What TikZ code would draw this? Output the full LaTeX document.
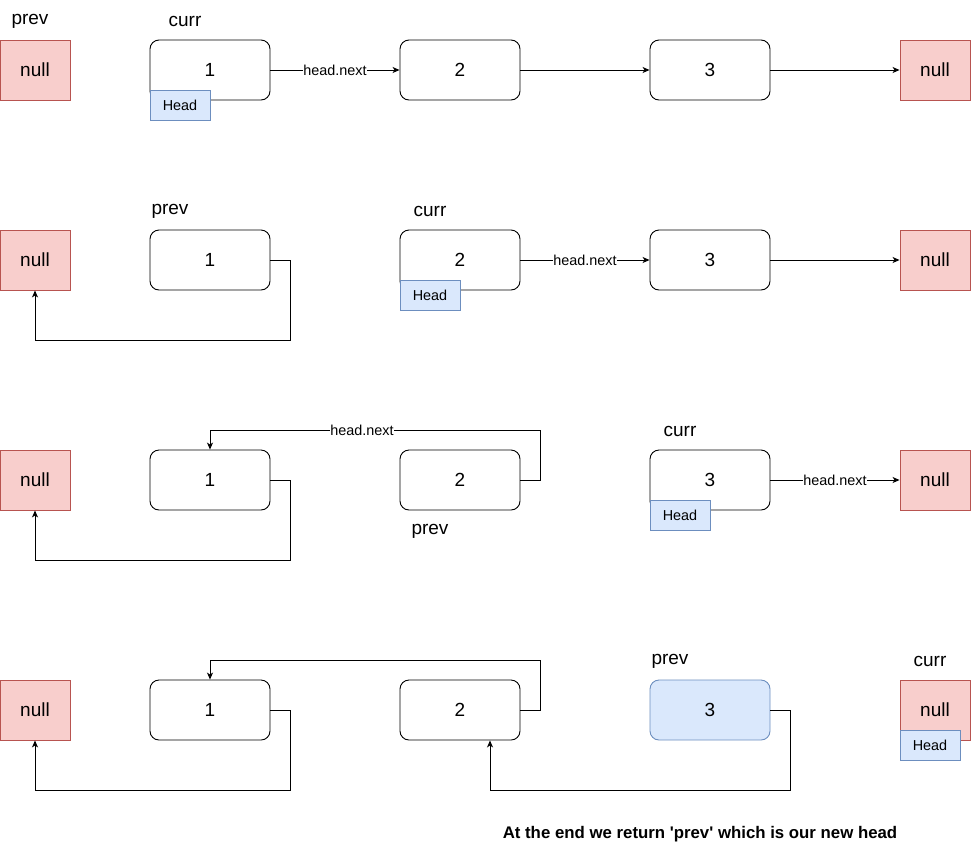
\documentclass[tikz,border=0pt]{standalone}
\usepackage{fontspec}
\setmainfont{Liberation Sans}
\usetikzlibrary{arrows.meta,calc}
\definecolor{redfill}{HTML}{F8CECC}
\definecolor{redline}{HTML}{B85450}
\definecolor{bluefill}{HTML}{DAE8FC}
\definecolor{blueline}{HTML}{6C8EBF}
\tikzset{
  nullbox/.style={draw=redline,fill=redfill,line width=0.9pt,minimum width=70pt,minimum height=60pt,inner sep=0pt,font=\fontsize{19}{22}\selectfont},
  listnode/.style={draw=black,fill=white,rounded corners=9pt,line width=0.9pt,minimum width=120pt,minimum height=60pt,inner sep=0pt,font=\fontsize{19}{22}\selectfont},
  newhead/.style={listnode,draw=blueline,fill=bluefill},
  headbox/.style={draw=blueline,fill=bluefill,line width=0.9pt,minimum width=60pt,minimum height=30pt,inner sep=0pt,font=\fontsize{14.4}{17}\selectfont},
  ptr/.style={font=\fontsize{19}{22}\selectfont,inner sep=0pt},
  arr/.style={draw=black,line width=0.9pt,-{Stealth[length=7pt,width=6pt,inset=2pt]}},
  lbl/.style={fill=white,inner sep=0.5pt,font=\fontsize{14.4}{17}\selectfont},
}
\begin{document}
\begin{tikzpicture}[x=1pt,y=-1pt]
\useasboundingbox (0,0) rectangle (972,852);
% ---------- Row 1 ----------
\node[nullbox] (n1) at (35,70) {null};
\node[listnode] (a1) at (210,70) {1};
\node[listnode] (b1) at (460,70) {2};
\node[listnode] (c1) at (710,70) {3};
\node[nullbox] (m1) at (935,70) {null};
\node[headbox] (h1) at (180,105) {Head};
\node[ptr] (p1) at (30,21) {prev};
\node[ptr] (q1) at (185,21) {curr};
\draw[arr] (a1) -- node[lbl] {head.next} (b1);
\draw[arr] (b1) -- (c1);
\draw[arr] (c1) -- (m1);
% ---------- Row 2 ----------
\node[nullbox] (n2) at (35,260) {null};
\node[listnode] (a2) at (210,260) {1};
\node[listnode] (b2) at (460,260) {2};
\node[listnode] (c2) at (710,260) {3};
\node[nullbox] (m2) at (935,260) {null};
\node[headbox] (h2) at (430,295) {Head};
\node[ptr] (p2) at (170,211) {prev};
\node[ptr] (q2) at (430,211) {curr};
\draw[arr] (a2.east) -- ++(20,0) -- ++(0,80) -| (n2.south);
\draw[arr] (b2) -- node[lbl] {head.next} (c2);
\draw[arr] (c2) -- (m2);
% ---------- Row 3 ----------
\node[nullbox] (n3) at (35,480) {null};
\node[listnode] (a3) at (210,480) {1};
\node[listnode] (b3) at (460,480) {2};
\node[listnode] (c3) at (710,480) {3};
\node[nullbox] (m3) at (935,480) {null};
\node[headbox] (h3) at (680,515) {Head};
\node[ptr] (p3) at (430,531) {prev};
\node[ptr] (q3) at (680,431) {curr};
\draw[arr] (a3.east) -- ++(20,0) -- ++(0,80) -| (n3.south);
\draw[arr] (b3.east) -- ++(20,0) -- ++(0,-50) -| node[lbl,pos=0.27] {head.next} (a3.north);
\draw[arr] (c3) -- node[lbl] {head.next} (m3);
% ---------- Row 4 ----------
\node[nullbox] (n4) at (35,710) {null};
\node[listnode] (a4) at (210,710) {1};
\node[listnode] (b4) at (460,710) {2};
\node[newhead] (c4) at (710,710) {3};
\node[nullbox] (m4) at (935,710) {null};
\node[headbox] (h4) at (930,745) {Head};
\node[ptr] (p4) at (670,661) {prev};
\node[ptr] (q4) at (930,661) {curr};
\coordinate (b4in) at ($(b4.south)+(30,0)$);
\draw[arr] (a4.east) -- ++(20,0) -- ++(0,80) -| (n4.south);
\draw[arr] (b4.east) -- ++(20,0) -- ++(0,-50) -| (a4.north);
\draw[arr] (c4.east) -- ++(20,0) -- ++(0,80) -| (b4in);
\node[font=\fontsize{16.8}{20}\selectfont\bfseries,inner sep=0pt] (note) at (700,834) {At the end we return \textquotesingle prev\textquotesingle\ which is our new head};
\end{tikzpicture}
\end{document}
